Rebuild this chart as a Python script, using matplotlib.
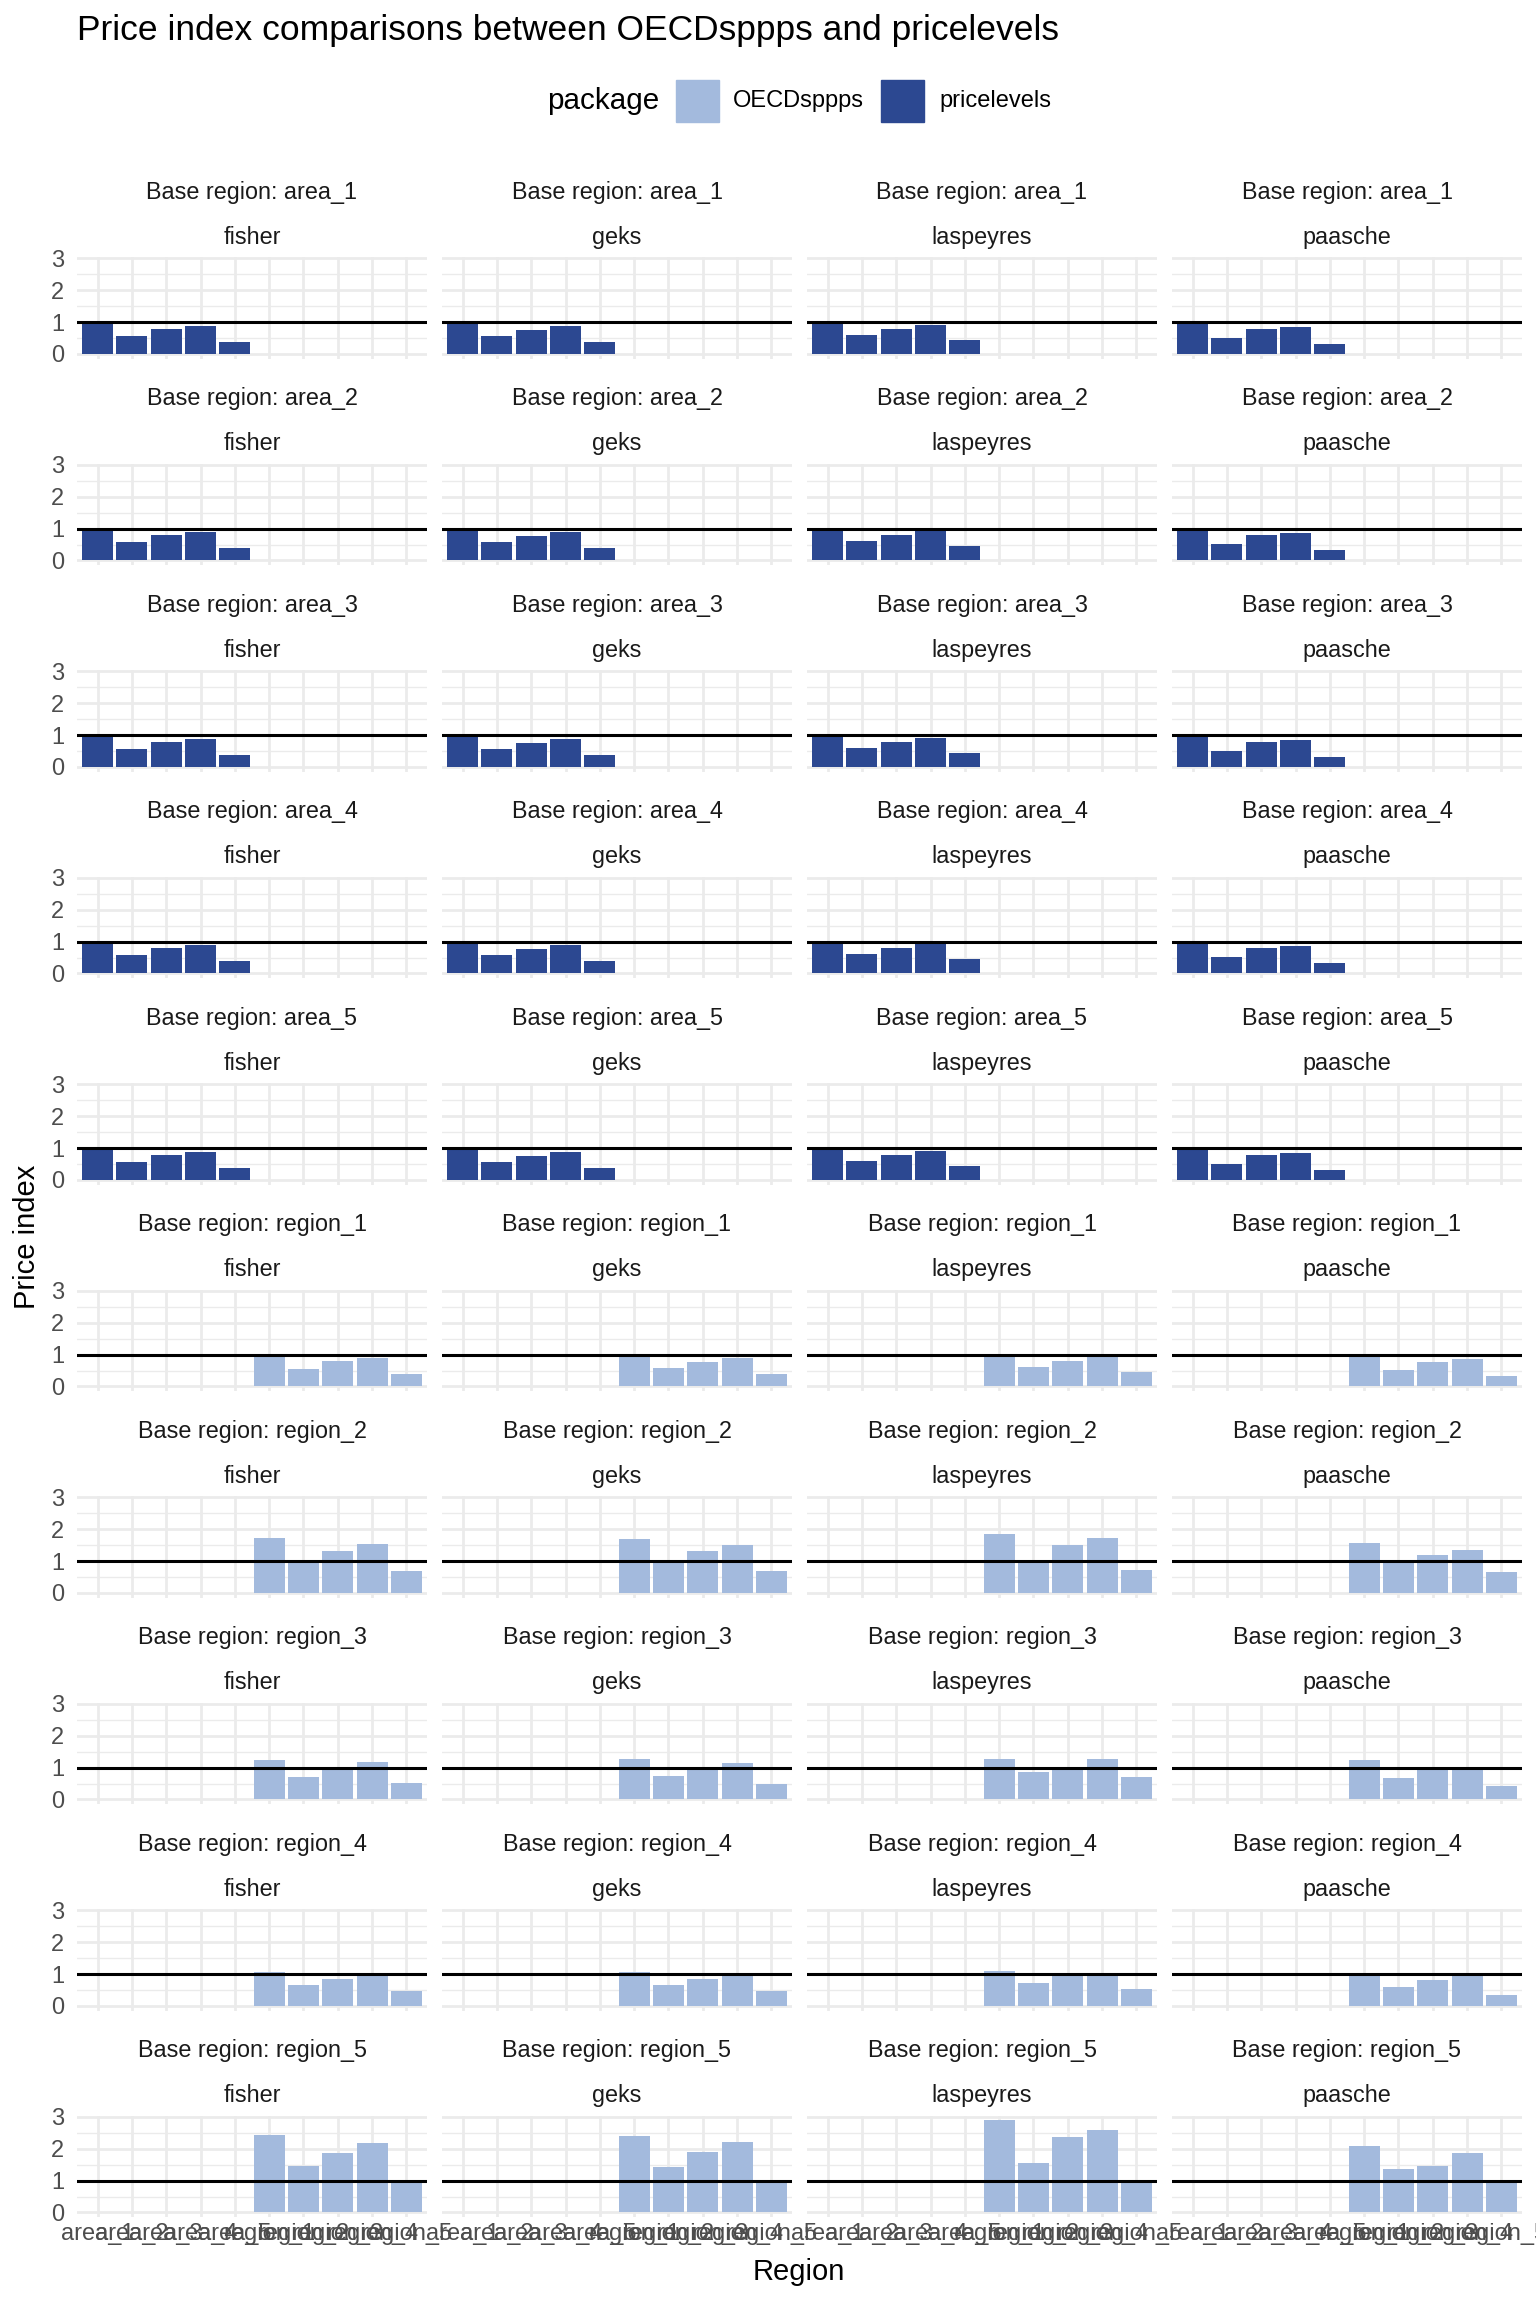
import numpy as np
import matplotlib
matplotlib.use("Agg")
import matplotlib.pyplot as plt
from matplotlib.patches import Rectangle

plt.rcParams['font.family'] = ['Liberation Sans', 'DejaVu Sans']

# categories
methods = ['fisher', 'geks', 'laspeyres', 'paasche']
regions = ['area_1', 'area_2', 'area_3', 'area_4', 'area_5',
           'region_1', 'region_2', 'region_3', 'region_4', 'region_5']
base_regions = regions
packages = ['OECDsppps', 'pricelevels']
package_colors = ['#A3BADD', '#2C4891']

# values, one list per method (fisher, geks, laspeyres, paasche)
# area bases: bars at area_1..area_5 (pricelevels)
area_values = [
    [1.00, 0.57, 0.79, 0.89, 0.39],
    [1.00, 0.57, 0.76, 0.89, 0.39],
    [1.00, 0.60, 0.79, 0.92, 0.45],
    [1.00, 0.51, 0.79, 0.85, 0.32],
]
# region bases: bars at region_1..region_5 (OECDsppps)
region_1_values = [
    [1.00, 0.56, 0.81, 0.90, 0.40],
    [1.00, 0.59, 0.78, 0.90, 0.40],
    [1.00, 0.62, 0.81, 0.95, 0.46],
    [1.00, 0.53, 0.78, 0.87, 0.34],
]
region_2_values = [
    [1.71, 1.00, 1.33, 1.55, 0.68],
    [1.68, 1.00, 1.33, 1.52, 0.68],
    [1.86, 1.00, 1.52, 1.71, 0.71],
    [1.58, 1.00, 1.18, 1.36, 0.65],
]
region_3_values = [
    [1.23, 0.72, 1.00, 1.16, 0.53],
    [1.26, 0.75, 1.00, 1.13, 0.50],
    [1.26, 0.85, 1.00, 1.26, 0.69],
    [1.23, 0.66, 1.00, 1.00, 0.41],
]
region_4_values = [
    [1.08, 0.65, 0.86, 1.00, 0.46],
    [1.08, 0.65, 0.86, 1.00, 0.46],
    [1.11, 0.71, 1.00, 1.00, 0.52],
    [1.00, 0.58, 0.80, 1.00, 0.36],
]
region_5_values = [
    [2.44, 1.47, 1.88, 2.19, 1.00],
    [2.41, 1.44, 1.91, 2.22, 1.00],
    [2.89, 1.56, 2.38, 2.60, 1.00],
    [2.07, 1.37, 1.47, 1.85, 1.00],
]

rows = [area_values] * 5 + [region_1_values, region_2_values, region_3_values,
                            region_4_values, region_5_values]

W, H = 1536, 2304
fig = plt.figure(figsize=(W / 100, H / 100), dpi=100)
fig.patch.set_facecolor('white')


def rect(left, top, width, height):
    return [left / W, 1 - (top + height) / H, width / W, height / H]


def fx(x):
    return x / W


def fy(y):
    return 1 - y / H


ymax = max(max(max(m) for m in r) for r in rows)
pad = 0.05 * ymax

col_left = 77
col_w = 350
col_gap = 15
row_top = 257.2
row_pitch = 206.5
row_h = 101.4
x = np.arange(1, len(regions) + 1)

for r, base in enumerate(base_regions):
    vals = rows[r]
    is_area = base.startswith('area')
    pkg = 1 if is_area else 0
    pos = x[:5] if is_area else x[5:]
    top = row_top + r * row_pitch
    for c, method in enumerate(methods):
        left = col_left + c * (col_w + col_gap)
        ax = fig.add_axes(rect(left, top, col_w, row_h))
        ax.bar(pos, vals[c], width=0.9, color=package_colors[pkg], zorder=2)
        ax.axhline(1, color='black', linewidth=2.2, zorder=3)
        ax.set_xlim(0.4, len(regions) + 0.6)
        ax.set_ylim(-pad, ymax + pad)
        ax.set_xticks(x)
        ax.set_yticks([0, 1, 2, 3])
        ax.set_yticks([0.5, 1.5, 2.5], minor=True)
        ax.grid(which='major', color='#EBEBEB', linewidth=1.95, zorder=0)
        ax.grid(which='minor', axis='y', color='#EBEBEB', linewidth=1.0, zorder=0)
        ax.set_axisbelow(True)
        for s in ax.spines.values():
            s.set_visible(False)
        ax.tick_params(which='both', length=0, colors='#4D4D4D', labelsize=17)
        ax.tick_params(axis='y', pad=9)
        ax.tick_params(axis='x', pad=4)
        if c > 0:
            ax.set_yticklabels([])
        if r < len(base_regions) - 1:
            ax.set_xticklabels([])
        else:
            ax.set_xticklabels(regions)
        cx = left + col_w / 2
        fig.text(fx(cx), fy(top - 65), f'Base region: {base}', ha='center',
                 va='center', fontsize=16.8, color='#1A1A1A')
        fig.text(fx(cx), fy(top - 20), method, ha='center', va='center',
                 fontsize=16.8, color='#1A1A1A')

# title
fig.text(fx(77), fy(40), 'Price index comparisons between OECDsppps and pricelevels',
         ha='left', va='baseline', fontsize=25.5)

# legend
fig.text(fx(547), fy(101), 'package', ha='left', va='center', fontsize=21.3)
key_x = [676, 881]
text_x = [733, 939]
for i, p in enumerate(packages):
    fig.add_artist(Rectangle((fx(key_x[i]), fy(122)), 43 / W, 42 / H,
                             transform=fig.transFigure, color=package_colors[i]))
    fig.text(fx(text_x[i]), fy(101), p, ha='left', va='center', fontsize=17)

# axis titles
fig.text(fx(799), fy(2272), 'Region', ha='center', va='center', fontsize=21)
fig.text(fx(27), fy(1237), 'Price index', ha='center', va='center',
         rotation=90, fontsize=21)

fig.savefig('out.png', dpi=100)
